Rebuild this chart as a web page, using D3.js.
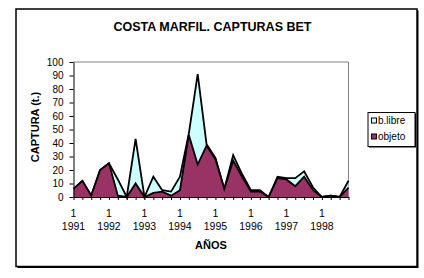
<!DOCTYPE html>
<html><head><meta charset="utf-8">
<script src="https://cdn.jsdelivr.net/npm/d3@7"></script>
<style>
body{margin:0;background:#fff}
svg{display:block}
text{font-family:"Liberation Sans",Arial,Helvetica,sans-serif;fill:#000}
</style>
</head><body>
<script>
// ---- data ----
const years = ["1991","1992","1993","1994","1995","1996","1997","1998"];
const quarters = ["1","2","3","4"];
const blibre = [6,12,1,20,25,13,0,43,0,15,5,4,15,47,91,39,29,6,31,17,5,5,0,15,14,14,19,7,0,1,0,12];
const objeto = [6,12,1,20,25,1,0,10,0,3,4,1,5,46,24,38,28,6,27,15,4,4,0,14,13,8,15,5,0,1,0,7];
const yTicks = [0,10,20,30,40,50,60,70,80,90,100];
const seriesNames = ["b.libre","objeto"];
const seriesColors = ["#CCFFFF","#993366"];

const categories = [];
years.forEach(y => quarters.forEach(q => categories.push({q, y})));

const W = 424, H = 278;
const svg = d3.select("body").append("svg").attr("width", W).attr("height", H);

// chart border with shadow
svg.append("rect").attr("x",17.5).attr("y",10.5).attr("width",401).attr("height",257.5)
  .attr("fill","#000");
svg.append("rect").attr("x",16).attr("y",9).attr("width",401).attr("height",257.5)
  .attr("fill","#fff").attr("stroke","#000").attr("stroke-width",1.5);

// title
svg.append("text").attr("x",212.5).attr("y",31).attr("text-anchor","middle")
  .attr("font-size","12.5px").attr("font-weight","bold").text("COSTA MARFIL. CAPTURAS BET");

const L = 73.5, R = 348.5, T = 62, B = 197;
const x = d3.scalePoint().domain(d3.range(categories.length)).range([L, R]);
const y = d3.scaleLinear().domain([0,100]).range([B, T]);

// plot area border (gray)
svg.append("path").attr("d",`M${L},${T}H${R}V${B}`).attr("fill","none")
  .attr("stroke","#808080").attr("stroke-width",1);

const area = d3.area().x((d,i)=>x(i)).y0(y(0)).y1(d=>y(d));
const line = d3.line().x((d,i)=>x(i)).y(d=>y(d));

[blibre, objeto].forEach((s, k) => {
  svg.append("path").datum(s).attr("d", area).attr("fill", seriesColors[k]);
  svg.append("path").datum(s).attr("d", line).attr("fill","none")
    .attr("stroke","#000").attr("stroke-width",1.8).attr("stroke-linejoin","miter");
});

// y axis
const ya = svg.append("g").attr("transform",`translate(${L},0)`)
  .call(d3.axisLeft(y).tickValues(yTicks).tickSize(4).tickPadding(6).tickSizeOuter(0));
ya.select(".domain").attr("stroke","#000");
ya.selectAll("text").attr("font-size","10px").attr("font-family","Liberation Sans, Arial, sans-serif");

// x axis
const xa = svg.append("g").attr("transform",`translate(0,${B})`)
  .call(d3.axisBottom(x).tickSize(3).tickFormat("").tickSizeOuter(0));
xa.select(".domain").attr("stroke","#000");

const lab = svg.append("g").attr("font-size","10.5px").attr("text-anchor","middle");
categories.forEach((c,i) => {
  if (c.q === "1") {
    lab.append("text").attr("x", x(i)).attr("y", 217).text(c.q);
    lab.append("text").attr("x", x(i)).attr("y", 230).text(c.y);
  }
});

// axis titles
svg.append("text").attr("x",211).attr("y",249).attr("text-anchor","middle")
  .attr("font-size","11px").attr("font-weight","bold").text("AÑOS");
svg.append("text").attr("transform","translate(39,127) rotate(-90)").attr("text-anchor","middle")
  .attr("font-size","11px").attr("font-weight","bold").text("CAPTURA (t.)");

// legend
const lg = svg.append("g");
lg.append("rect").attr("x",369).attr("y",113.5).attr("width",47).attr("height",34).attr("fill","#000");
lg.append("rect").attr("x",368).attr("y",112.5).attr("width",47).attr("height",34)
  .attr("fill","#fff").attr("stroke","#000").attr("stroke-width",1);
seriesNames.forEach((n,k) => {
  const yy = 124 + k*16;
  lg.append("rect").attr("x",371.5).attr("y",yy-6).attr("width",5).attr("height",5)
    .attr("fill",seriesColors[k]).attr("stroke","#000").attr("stroke-width",1);
  lg.append("text").attr("x",378).attr("y",yy).attr("font-size","10px").text(n);
});
</script>
</body></html>
